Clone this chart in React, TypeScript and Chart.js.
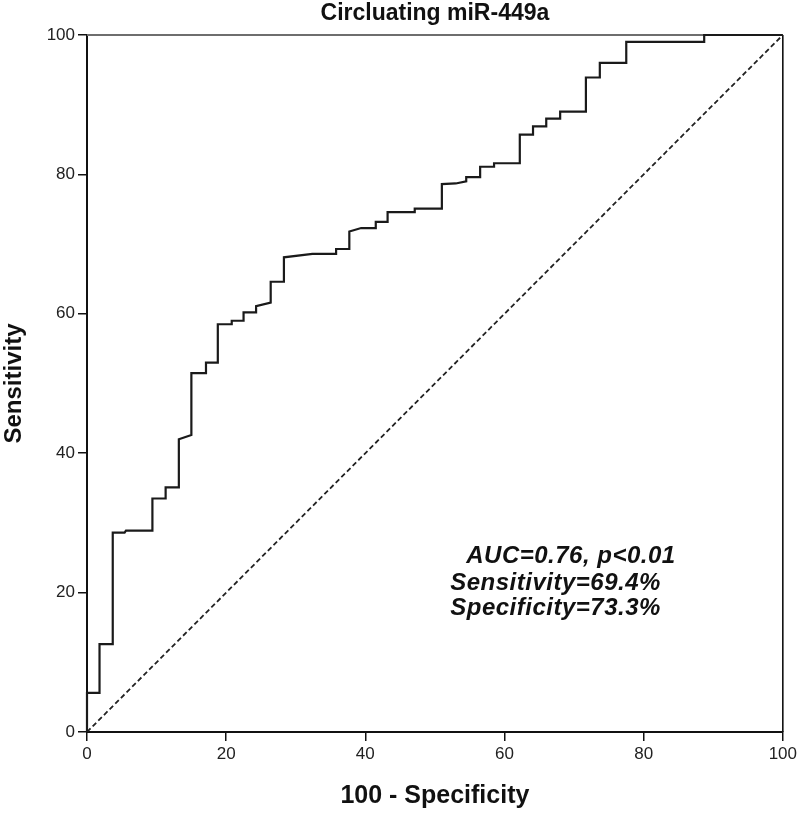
import React, { useEffect, useRef } from "react";
import { Chart, registerables } from "chart.js";

Chart.register(...registerables);

const chartTitle = "Circluating miR-449a";
const xAxisTitle = "100 - Specificity";
const yAxisTitle = "Sensitivity";

// ROC step curve vertices (100 - Specificity, Sensitivity)
const rocX = [
  0, 0, 1.8, 1.8, 3.7, 3.7, 5.4, 5.6, 9.4, 9.4, 11.3, 11.3, 13.2, 13.2, 15.0, 15.0,
  17.1, 17.1, 18.8, 18.8, 20.8, 20.8, 22.5, 22.5, 24.3, 24.3, 26.4, 26.4, 28.3, 28.3,
  32.4, 35.8, 35.8, 37.7, 37.7, 39.4, 41.5, 41.5, 43.2, 43.2, 47.1, 47.1, 51.0, 51.0,
  53.0, 54.5, 54.5, 56.5, 56.5, 58.5, 58.5, 62.2, 62.2, 64.1, 64.1, 66.0, 66.0, 68.0,
  68.0, 71.7, 71.7, 73.7, 73.7, 77.5, 77.5, 88.7, 88.7, 100,
];
const rocY = [
  0, 5.6, 5.6, 12.6, 12.6, 28.6, 28.6, 28.9, 28.9, 33.5, 33.5, 35.1, 35.1, 42.0, 42.6, 51.5,
  51.5, 53.0, 53.0, 58.5, 58.5, 59.0, 59.0, 60.2, 60.2, 61.1, 61.6, 64.6, 64.6, 68.1,
  68.6, 68.6, 69.3, 69.3, 71.8, 72.3, 72.3, 73.2, 73.2, 74.6, 74.6, 75.1, 75.1, 78.6,
  78.7, 79.0, 79.6, 79.6, 81.1, 81.1, 81.6, 81.6, 85.7, 85.7, 86.9, 86.9, 88.0, 88.0,
  89.0, 89.0, 93.9, 93.9, 96.0, 96.0, 99.0, 99.0, 100, 100,
];

const refX = [0, 100];
const refY = [0, 100];

const xTicks = [0, 20, 40, 60, 80, 100];
const yTicks = [0, 20, 40, 60, 80, 100];

const annotationLines = ["AUC=0.76, p<0.01", "Sensitivity=69.4%", "Specificity=73.3%"];
// anchor (data coords) for each annotation line: left x, baseline y
const annotationAnchorX = [54.5, 52.2, 52.2];
const annotationAnchorY = [24.2, 20.4, 16.8];

const FONT = '"Liberation Sans", Arial, sans-serif';

export default function App() {
  const canvasRef = useRef<HTMLCanvasElement | null>(null);

  useEffect(() => {
    document.body.style.margin = "0";
    const canvas = canvasRef.current;
    if (!canvas) return;

    const framePlugin = {
      id: "frame",
      beforeDatasetsDraw(chart: any) {
        const { ctx, chartArea } = chart;
        ctx.save();
        ctx.lineWidth = 2;
        ctx.strokeStyle = "#6e6e6e";
        ctx.beginPath();
        ctx.moveTo(chartArea.left, chartArea.top);
        ctx.lineTo(chartArea.right, chartArea.top);
        ctx.stroke();
        ctx.strokeStyle = "#111";
        ctx.lineWidth = 1.6;
        ctx.beginPath();
        ctx.moveTo(chartArea.right, chartArea.top);
        ctx.lineTo(chartArea.right, chartArea.bottom);
        ctx.stroke();
        ctx.restore();
      },
      afterDraw(chart: any) {
        const { ctx } = chart;
        const xs = chart.scales.x;
        const ys = chart.scales.y;
        ctx.save();
        ctx.fillStyle = "#111";
        ctx.font = `italic bold 24px ${FONT}`;
        try {
          (ctx as any).letterSpacing = "0.5px";
        } catch (e) {}
        ctx.textAlign = "left";
        ctx.textBaseline = "alphabetic";
        annotationLines.forEach((t, i) => {
          ctx.fillText(t, xs.getPixelForValue(annotationAnchorX[i]), ys.getPixelForValue(annotationAnchorY[i]));
        });
        ctx.restore();
      },
    };

    const chart = new Chart(canvas, {
      type: "line",
      data: {
        datasets: [
          {
            label: "ROC",
            data: rocX.map((x, i) => ({ x, y: rocY[i] })),
            borderColor: "#1a1a1a",
            borderWidth: 2.2,
            pointRadius: 0,
            tension: 0,
            fill: false,
            clip: false as any,
          },
          {
            label: "Reference",
            data: refX.map((x, i) => ({ x, y: refY[i] })),
            borderColor: "#222",
            borderWidth: 1.8,
            borderDash: [5, 3],
            pointRadius: 0,
            tension: 0,
            fill: false,
          },
        ],
      },
      options: {
        responsive: false,
        animation: false,
        layout: { padding: { left: 0, right: 16, top: 0, bottom: 0 } },
        plugins: {
          legend: { display: false },
          tooltip: { enabled: false },
          title: {
            display: true,
            text: chartTitle,
            fullSize: false,
            color: "#111",
            font: { family: FONT, size: 23, weight: "bold", lineHeight: 1.2 },
            padding: { top: 0, bottom: 7.4 },
          },
        },
        scales: {
          x: {
            type: "linear",
            min: 0,
            max: 100,
            afterBuildTicks: (s: any) => {
              s.ticks = xTicks.map((v) => ({ value: v }));
            },
            afterFit: (s: any) => {
              s.height = 83;
            },
            ticks: {
              color: "#222",
              font: { family: FONT, size: 17 },
              padding: 3,
              maxRotation: 0,
            },
            grid: {
              display: true,
              drawOnChartArea: false,
              drawTicks: true,
              tickLength: 9,
              color: "#111",
              lineWidth: 1.5,
            },
            border: { display: true, color: "#111", width: 2 },
            title: {
              display: true,
              text: xAxisTitle,
              color: "#111",
              font: { family: FONT, size: 25, weight: "bold", lineHeight: 1.2 },
              padding: { top: 0, bottom: 4 },
            },
          },
          y: {
            type: "linear",
            min: 0,
            max: 100,
            afterBuildTicks: (s: any) => {
              s.ticks = yTicks.map((v) => ({ value: v }));
            },
            afterFit: (s: any) => {
              s.width = 87;
            },
            ticks: {
              color: "#222",
              font: { family: FONT, size: 17 },
              padding: 3,
            },
            grid: {
              display: true,
              drawOnChartArea: false,
              drawTicks: true,
              tickLength: 9,
              color: "#111",
              lineWidth: 1.5,
            },
            border: { display: true, color: "#111", width: 2 },
            title: {
              display: true,
              text: yAxisTitle,
              color: "#111",
              font: { family: FONT, size: 24, weight: "bold", lineHeight: 1.2 },
              padding: { top: 0, bottom: 0 },
            },
          },
        },
      },
      plugins: [framePlugin],
    });

    return () => {
      chart.destroy();
    };
  }, []);

  return (
    <div style={{ width: 800, height: 815, background: "#fff" }}>
      <canvas ref={canvasRef} width={800} height={815} style={{ display: "block" }} />
    </div>
  );
}
